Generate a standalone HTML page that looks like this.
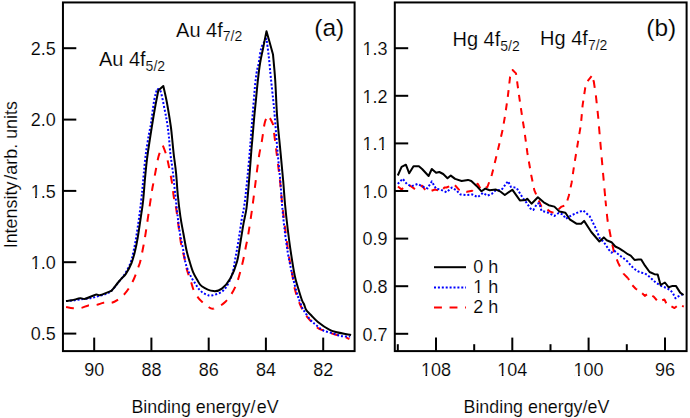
<!DOCTYPE html>
<html><head><meta charset="utf-8"><style>
html,body{margin:0;padding:0;background:#fff;width:690px;height:418px;overflow:hidden;}
svg{display:block;font-family:"Liberation Sans", sans-serif;}
</style></head><body>
<svg width="690" height="418" viewBox="0 0 690 418">
<rect width="690" height="418" fill="#fff"/>
<path d="M66.10,306.90 C67.28,307.12 70.67,308.03 73.20,308.20 C75.73,308.37 78.77,308.37 81.30,307.90 C83.83,307.43 85.87,305.90 88.40,305.40 C90.93,304.90 93.97,305.33 96.50,304.90 C99.03,304.47 101.07,303.15 103.60,302.80 C106.13,302.45 109.33,303.30 111.70,302.80" fill="none" stroke="#ff0000" stroke-width="2.0" stroke-linejoin="round" stroke-dasharray="7.9 7.65" stroke-dashoffset="0"/>
<path d="M162.90,145.70 C162.35,146.95 160.45,150.90 159.60,153.20 C158.75,155.50 158.77,154.87 157.80,159.50 C156.83,164.13 154.75,175.92 153.80,181.00 C152.85,186.08 152.98,184.52 152.10,190.00 C151.22,195.48 149.70,205.93 148.50,213.90 C147.30,221.87 146.22,230.12 144.90,237.80 C143.58,245.48 141.68,255.13 140.60,260.00 C139.52,264.87 139.48,263.92 138.40,267.00 C137.32,270.08 135.67,274.98 134.10,278.50 C132.53,282.02 130.70,285.40 129.00,288.10 C127.30,290.80 125.77,292.75 123.90,294.70 C122.03,296.65 119.83,298.45 117.80,299.80 C115.77,301.15 114.07,302.30 111.70,302.80" fill="none" stroke="#ff0000" stroke-width="2.0" stroke-linejoin="round" stroke-dasharray="7.9 7.65" stroke-dashoffset="7.8"/>
<path d="M162.90,145.70 C163.42,147.08 165.20,151.50 166.00,154.00 C166.80,156.50 166.75,156.20 167.70,160.70 C168.65,165.20 170.68,174.95 171.70,181.00 C172.72,187.05 173.07,192.50 173.80,197.00 C174.53,201.50 175.37,203.58 176.10,208.00 C176.83,212.42 177.62,219.17 178.20,223.50 C178.78,227.83 179.10,230.48 179.60,234.00 C180.10,237.52 180.58,241.37 181.20,244.60 C181.82,247.83 182.62,250.50 183.30,253.40 C183.98,256.30 184.68,259.23 185.30,262.00 C185.92,264.77 186.38,267.67 187.00,270.00 C187.62,272.33 188.28,273.87 189.00,276.00 C189.72,278.13 190.53,280.47 191.30,282.80 C192.07,285.13 192.50,287.58 193.60,290.00 C194.70,292.42 196.42,295.25 197.90,297.30 C199.38,299.35 200.90,300.82 202.50,302.30 C204.10,303.78 205.67,305.13 207.50,306.20 C209.33,307.27 210.55,309.40 213.50,308.70" fill="none" stroke="#ff0000" stroke-width="2.0" stroke-linejoin="round" stroke-dasharray="7.9 7.65" stroke-dashoffset="0"/>
<path d="M267.40,115.30 C266.93,116.67 265.50,119.35 264.60,123.50 C263.70,127.65 262.92,134.87 262.00,140.20 C261.08,145.53 260.10,149.08 259.10,155.50 C258.10,161.92 257.13,170.03 256.00,178.70 C254.87,187.37 253.63,197.92 252.30,207.50 C250.97,217.08 249.02,229.95 248.00,236.20 C246.98,242.45 247.20,240.18 246.20,245.00 C245.20,249.82 243.82,258.12 242.00,265.10 C240.18,272.08 238.10,280.75 235.30,286.90 C232.50,293.05 228.83,298.37 225.20,302.00 C221.57,305.63 216.45,308.00 213.50,308.70" fill="none" stroke="#ff0000" stroke-width="2.0" stroke-linejoin="round" stroke-dasharray="7.9 7.65" stroke-dashoffset="11.7"/>
<path d="M267.40,115.30 C267.87,115.85 269.27,117.12 270.20,118.60 C271.13,120.08 272.53,123.27 273.00,124.20 C273.53,128.50 275.05,140.70 276.20,150.00 C277.35,159.30 278.90,171.00 279.90,180.00 C280.90,189.00 281.33,196.00 282.20,204.00 C283.07,212.00 284.03,219.67 285.10,228.00 C286.17,236.33 287.45,246.50 288.60,254.00 C289.75,261.50 290.92,267.00 292.00,273.00 C293.08,279.00 293.72,284.67 295.10,290.00 C296.48,295.33 298.57,300.93 300.30,305.00 C302.03,309.07 304.15,312.17 305.50,314.40 C306.85,316.63 306.67,316.42 308.40,318.40 C310.13,320.38 314.10,324.57 315.90,326.30 C317.70,328.03 316.97,327.78 319.20,328.80 C321.43,329.82 326.78,331.48 329.30,332.40 C331.82,333.32 331.93,333.62 334.30,334.30 C336.67,334.98 340.98,335.72 343.50,336.50 C346.02,337.28 348.42,338.58 349.40,339.00" fill="none" stroke="#ff0000" stroke-width="2.0" stroke-linejoin="round" stroke-dasharray="7.9 7.65" stroke-dashoffset="11.7"/>
<path d="M66.00,301.00 C67.00,300.93 69.67,300.85 72.00,300.60 C74.33,300.35 76.60,299.97 80.00,299.50 C83.40,299.03 88.97,298.47 92.40,297.80 C95.83,297.13 98.23,296.18 100.60,295.50 C102.97,294.82 104.75,294.53 106.60,293.70 C108.45,292.87 109.50,292.70 111.70,290.50 C113.90,288.30 117.50,283.42 119.80,280.50 C122.10,277.58 123.67,276.08 125.50,273.00 C127.33,269.92 129.45,265.67 130.80,262.00 C132.15,258.33 132.72,255.03 133.60,251.00 C134.48,246.97 135.10,243.98 136.10,237.80 C137.10,231.62 138.57,221.87 139.60,213.90 C140.63,205.93 141.60,196.77 142.30,190.00 C143.00,183.23 143.22,179.30 143.80,173.30 C144.38,167.30 144.97,160.38 145.80,154.00 C146.63,147.62 147.93,140.08 148.80,135.00 C149.67,129.92 150.12,129.22 151.00,123.50 C151.88,117.78 153.08,106.48 154.10,100.70 C155.12,94.92 156.60,90.78 157.10,88.80 C157.70,89.28 159.40,88.02 160.70,91.70 C162.00,95.38 163.80,105.52 164.90,110.90 C166.00,116.28 166.63,119.67 167.30,124.00 C167.97,128.33 168.38,131.90 168.90,136.90 C169.42,141.90 169.75,148.25 170.40,154.00 C171.05,159.75 172.03,165.07 172.80,171.40 C173.57,177.73 174.17,184.32 175.00,192.00 C175.83,199.68 176.98,210.60 177.80,217.50 C178.62,224.40 179.15,228.82 179.90,233.40 C180.65,237.98 181.57,241.23 182.30,245.00 C183.03,248.77 183.72,252.83 184.30,256.00 C184.88,259.17 185.03,261.27 185.80,264.00 C186.57,266.73 187.88,270.00 188.90,272.40 C189.92,274.80 190.82,276.53 191.90,278.40 C192.98,280.27 194.40,282.03 195.40,283.60 C196.40,285.17 197.07,286.63 197.90,287.80 C198.73,288.97 199.50,289.73 200.40,290.60 C201.30,291.47 202.22,292.33 203.30,293.00 C204.38,293.67 205.48,294.18 206.90,294.60 C208.32,295.02 209.02,296.22 211.80,295.50 C214.58,294.78 220.25,293.68 223.60,290.30 C226.95,286.92 229.93,280.58 231.90,275.20 C233.87,269.82 234.28,263.87 235.40,258.00 C236.52,252.13 237.57,246.33 238.60,240.00 C239.63,233.67 240.62,226.00 241.60,220.00 C242.58,214.00 243.55,210.88 244.50,204.00 C245.45,197.12 246.40,187.70 247.30,178.70 C248.20,169.70 249.18,158.48 249.90,150.00 C250.62,141.52 250.65,139.47 251.60,127.80 C252.55,116.13 254.42,90.80 255.60,80.00 C256.78,69.20 257.72,68.45 258.70,63.00 C259.68,57.55 260.20,51.35 261.50,47.30 C262.80,43.25 265.67,40.13 266.50,38.70 C266.87,41.57 267.98,49.45 268.70,55.90 C269.42,62.35 270.05,70.05 270.80,77.40 C271.55,84.75 272.55,93.57 273.20,100.00 C273.85,106.43 274.00,107.67 274.70,116.00 C275.40,124.33 276.45,139.00 277.40,150.00 C278.35,161.00 279.63,173.00 280.40,182.00 C281.17,191.00 281.33,196.33 282.00,204.00 C282.67,211.67 283.45,220.00 284.40,228.00 C285.35,236.00 286.63,245.33 287.70,252.00 C288.77,258.67 289.92,263.67 290.80,268.00 C291.68,272.33 291.97,273.73 293.00,278.00 C294.03,282.27 296.08,290.27 297.00,293.60 C297.92,296.93 297.62,295.60 298.50,298.00 C299.38,300.40 301.33,305.78 302.30,308.00 C303.27,310.22 302.87,309.22 304.30,311.30 C305.73,313.38 308.83,318.13 310.90,320.50 C312.97,322.87 314.62,323.83 316.70,325.50 C318.78,327.17 320.88,329.25 323.40,330.50 C325.92,331.75 328.87,332.08 331.80,333.00 C334.73,333.92 337.93,335.40 341.00,336.00 C344.07,336.60 348.67,336.50 350.20,336.60" fill="none" stroke="#0000ff" stroke-width="2.0" stroke-linejoin="round" stroke-dasharray="2 1.9"/>
<path d="M66.00,301.00 C67.00,300.88 69.62,300.75 72.00,300.30 C74.38,299.85 78.08,298.55 80.30,298.30 C82.52,298.05 82.77,299.40 85.30,298.80 C87.83,298.20 92.95,295.33 95.50,294.70 C98.05,294.07 97.90,295.67 100.60,295.00 C103.30,294.33 109.85,291.42 111.70,290.70 C113.05,289.00 117.42,283.35 119.80,280.50 C122.18,277.65 124.05,276.52 126.00,273.60 C127.95,270.68 130.03,266.60 131.50,263.00 C132.97,259.40 133.77,256.20 134.80,252.00 C135.83,247.80 136.62,244.15 137.70,237.80 C138.78,231.45 140.38,220.20 141.30,213.90 C142.22,207.60 142.57,206.08 143.20,200.00 C143.83,193.92 144.45,184.35 145.10,177.40 C145.75,170.45 146.30,164.68 147.10,158.30 C147.90,151.92 148.98,145.15 149.90,139.10 C150.82,133.05 151.67,127.68 152.60,122.00 C153.53,116.32 154.55,110.23 155.50,105.00 C156.45,99.77 157.83,93.00 158.30,90.60 C159.13,89.83 162.47,86.77 163.30,86.00 C163.88,88.67 165.58,95.50 166.80,102.00 C168.02,108.50 169.77,119.50 170.60,125.00 C171.43,130.50 171.28,130.17 171.80,135.00 C172.32,139.83 172.98,147.62 173.70,154.00 C174.42,160.38 175.42,166.47 176.10,173.30 C176.78,180.13 177.08,187.77 177.80,195.00 C178.52,202.23 179.47,210.28 180.40,216.70 C181.33,223.12 182.38,227.90 183.40,233.50 C184.42,239.10 185.45,245.58 186.50,250.30 C187.55,255.02 188.58,258.12 189.70,261.80 C190.82,265.48 191.93,269.37 193.20,272.40 C194.47,275.43 195.87,277.70 197.30,280.00 C198.73,282.30 199.10,284.35 201.80,286.20 C204.50,288.05 210.15,290.70 213.50,291.10 C216.85,291.50 219.10,290.70 221.90,288.60 C224.70,286.50 227.78,282.97 230.30,278.50 C232.82,274.03 235.25,268.22 237.00,261.80 C238.75,255.38 239.70,246.45 240.80,240.00 C241.90,233.55 242.63,228.52 243.60,223.10 C244.57,217.68 245.67,214.90 246.60,207.50 C247.53,200.10 248.40,188.28 249.20,178.70 C250.00,169.12 250.88,156.45 251.40,150.00 C251.92,143.55 251.83,145.43 252.30,140.00 C252.77,134.57 253.57,124.35 254.20,117.40 C254.83,110.45 255.47,104.68 256.10,98.30 C256.73,91.92 257.33,84.98 258.00,79.10 C258.67,73.22 259.27,68.07 260.10,63.00 C260.93,57.93 261.93,54.00 263.00,48.70 C264.07,43.40 265.92,34.12 266.50,31.20 C267.58,35.07 271.92,50.53 273.00,54.40 C273.37,58.67 274.52,69.73 275.20,80.00 C275.88,90.27 276.25,104.33 277.10,116.00 C277.95,127.67 279.28,139.17 280.30,150.00 C281.32,160.83 282.42,172.00 283.20,181.00 C283.98,190.00 284.27,196.17 285.00,204.00 C285.73,211.83 286.63,220.00 287.60,228.00 C288.57,236.00 289.60,244.00 290.80,252.00 C292.00,260.00 293.58,270.00 294.80,276.00 C296.02,282.00 296.92,284.00 298.10,288.00 C299.28,292.00 300.90,297.25 301.90,300.00 C302.90,302.75 303.45,302.97 304.10,304.50 C304.75,306.03 305.17,307.95 305.80,309.20 C306.43,310.45 306.97,310.95 307.90,312.00 C308.83,313.05 309.78,313.88 311.40,315.50 C313.02,317.12 314.62,319.33 317.60,321.70 C320.58,324.07 326.10,327.95 329.30,329.70 C332.50,331.45 333.17,331.32 336.80,332.20 C340.43,333.08 348.72,334.53 351.10,335.00" fill="none" stroke="#000" stroke-width="2.0" stroke-linejoin="round"/>
<polyline points="397.8,186.3 401.6,189.5 403.8,187.3 410.2,185.7 415.6,189.5 422.1,185.7 425.3,190.0 430.7,191.1 435.0,189.5 441.6,191.3 444.3,187.5 446.5,187.5 454.0,184.2 458.9,189.6 466.9,191.8 472.3,190.7 477.7,183.7 480.9,189.6 487.4,187.0 491.9,174.6 497.2,153.0 502.6,130.0 505.1,115.3 507.6,98.5 510.1,76.8 512.6,70.0 516.0,73.4 517.6,85.1 520.2,103.6 522.7,120.3 524.3,130.0 527.4,153.0 531.2,175.0 534.3,190.1 537.9,198.7 541.5,206.6 544.4,207.3 550.1,211.6 554.4,213.0 561.6,206.6 565.9,205.2 568.8,195.8 571.6,182.9 574.0,166.3 577.9,142.6 580.9,124.7 582.6,105.3 585.2,88.0 587.3,81.5 591.6,76.2" fill="none" stroke="#ff0000" stroke-width="2.0" stroke-linejoin="round" stroke-dasharray="6.85 6.63" stroke-dashoffset="13.30"/>
<polyline points="591.6,76.2 593.8,81.5 596.0,96.6 598.1,116.0 600.3,141.9 602.9,171.6 605.5,200.5" fill="none" stroke="#ff0000" stroke-width="2.0" stroke-linejoin="round" stroke-dasharray="7.9 7.65" stroke-dashoffset="11.30"/>
<polyline points="605.5,200.5 607.5,220.0 610.8,237.2 614.0,252.3 618.3,263.1 623.7,273.9 628.0,278.2" fill="none" stroke="#ff0000" stroke-width="2.0" stroke-linejoin="round" stroke-dasharray="7.9 7.65" stroke-dashoffset="2.12"/>
<polyline points="628.0,278.2 632.2,285.1 635.7,288.7 642.2,293.2 644.8,295.9 648.1,293.5 653.7,296.6 658.0,301.6 664.4,299.5 666.6,303.8 674.5,308.1 678.8,304.5 683.8,306.6" fill="none" stroke="#ff0000" stroke-width="2.0" stroke-linejoin="round" stroke-dasharray="6.42 6.22" stroke-dashoffset="4.28"/>
<polyline points="397.8,183.9 402.7,178.7 407.0,184.1 411.3,186.3 417.8,183.9 422.1,186.3 427.5,188.4 431.8,181.4 436.1,188.9 440.4,189.5 446.5,192.3 451.9,187.5 456.2,190.2 460.5,194.5 465.9,195.0 472.3,194.5 477.7,197.2 483.1,192.9 487.4,195.6 491.7,193.9 495.1,190.7 501.6,189.7 508.0,181.2 511.0,187.0 516.6,187.8 522.8,198.0 526.6,202.8 530.4,208.5 533.3,210.0 537.1,203.7 539.3,203.2 541.5,210.9 547.3,212.3 554.4,215.9 558.7,213.0 563.0,214.5 565.9,218.8 571.6,215.2 580.0,211.6 583.2,210.5 589.7,216.3 595.0,226.8 600.3,239.5 602.9,241.2 605.7,244.6 608.6,249.4 611.5,252.7 614.4,250.8 617.7,253.7 620.6,256.1 623.9,258.5 627.8,261.8 631.1,265.7 634.5,269.0 638.3,271.5 642.1,272.8 645.0,273.5 647.7,275.3 651.5,278.7 656.3,283.0 661.1,285.9 665.9,287.8 669.7,289.7 672.6,292.6 675.5,298.3 678.3,296.4 682.8,294.2" fill="none" stroke="#0000ff" stroke-width="2.0" stroke-linejoin="round" stroke-dasharray="2 1.9"/>
<polyline points="397.8,175.5 401.6,166.9 405.9,164.7 409.2,173.3 413.5,166.3 418.9,166.3 422.1,169.0 428.6,176.0 431.8,169.0 436.1,172.8 439.3,172.0 443.2,174.0 447.5,178.3 450.8,175.6 455.1,178.9 461.6,181.0 468.0,179.9 471.3,181.0 476.6,185.9 481.5,191.3 485.3,188.6 489.6,190.2 496.0,189.6 500.0,191.3 504.8,195.0 512.3,189.7 519.9,200.4 525.7,200.1 527.2,198.7 531.5,203.7 537.9,197.3 543.7,202.3 548.7,205.2 554.4,206.6 559.5,211.6 565.4,212.7 569.7,219.3 576.4,223.7 581.2,223.7 584.1,220.9 591.3,232.0 599.4,241.5 603.8,237.4 606.7,240.3 611.5,242.2 615.3,246.5 619.2,248.4 623.0,250.8 627.8,254.2 630.7,255.6 634.5,259.9 638.3,259.4 641.2,259.4 645.0,265.7 649.6,272.0 654.4,274.2 657.7,274.4 660.6,285.0 664.9,282.5 668.7,287.3 672.6,285.9 675.9,285.9 680.2,292.6 683.6,295.0" fill="none" stroke="#000" stroke-width="2.0" stroke-linejoin="round"/>
<rect x="62.95" y="2.45" width="291.65000000000003" height="348.65000000000003" fill="none" stroke="#000" stroke-width="2.0"/>
<rect x="394.8" y="2.45" width="291.8" height="348.65000000000003" fill="none" stroke="#000" stroke-width="2.0"/>
<line x1="62.95" y1="333.6" x2="76.3" y2="333.6" stroke="#000" stroke-width="2.0"/>
<line x1="62.95" y1="262.2" x2="76.3" y2="262.2" stroke="#000" stroke-width="2.0"/>
<line x1="62.95" y1="190.9" x2="76.3" y2="190.9" stroke="#000" stroke-width="2.0"/>
<line x1="62.95" y1="119.6" x2="76.3" y2="119.6" stroke="#000" stroke-width="2.0"/>
<line x1="62.95" y1="48.2" x2="76.3" y2="48.2" stroke="#000" stroke-width="2.0"/>
<line x1="94.2" y1="351.1" x2="94.2" y2="337.6" stroke="#000" stroke-width="2.0"/>
<line x1="151.4" y1="351.1" x2="151.4" y2="337.6" stroke="#000" stroke-width="2.0"/>
<line x1="208.7" y1="351.1" x2="208.7" y2="337.6" stroke="#000" stroke-width="2.0"/>
<line x1="265.9" y1="351.1" x2="265.9" y2="337.6" stroke="#000" stroke-width="2.0"/>
<line x1="323.2" y1="351.1" x2="323.2" y2="337.6" stroke="#000" stroke-width="2.0"/>
<line x1="394.8" y1="333.8" x2="408.2" y2="333.8" stroke="#000" stroke-width="2.0"/>
<line x1="394.8" y1="286.2" x2="408.2" y2="286.2" stroke="#000" stroke-width="2.0"/>
<line x1="394.8" y1="238.6" x2="408.2" y2="238.6" stroke="#000" stroke-width="2.0"/>
<line x1="394.8" y1="191.0" x2="408.2" y2="191.0" stroke="#000" stroke-width="2.0"/>
<line x1="394.8" y1="143.4" x2="408.2" y2="143.4" stroke="#000" stroke-width="2.0"/>
<line x1="394.8" y1="95.8" x2="408.2" y2="95.8" stroke="#000" stroke-width="2.0"/>
<line x1="394.8" y1="48.2" x2="408.2" y2="48.2" stroke="#000" stroke-width="2.0"/>
<line x1="436.0" y1="351.1" x2="436.0" y2="337.6" stroke="#000" stroke-width="2.0"/>
<line x1="512.3" y1="351.1" x2="512.3" y2="337.6" stroke="#000" stroke-width="2.0"/>
<line x1="588.6" y1="351.1" x2="588.6" y2="337.6" stroke="#000" stroke-width="2.0"/>
<line x1="665.0" y1="351.1" x2="665.0" y2="337.6" stroke="#000" stroke-width="2.0"/>
<line x1="397.8" y1="351.1" x2="397.8" y2="344.2" stroke="#000" stroke-width="2.0"/>
<line x1="474.2" y1="351.1" x2="474.2" y2="344.2" stroke="#000" stroke-width="2.0"/>
<line x1="550.5" y1="351.1" x2="550.5" y2="344.2" stroke="#000" stroke-width="2.0"/>
<line x1="626.8" y1="351.1" x2="626.8" y2="344.2" stroke="#000" stroke-width="2.0"/>
<g font-family='"Liberation Sans", sans-serif' fill="#000" stroke="#fff" stroke-width="0.15">
<text x="55.7" y="340.4" font-size="18" text-anchor="end">0.5</text>
<text x="55.7" y="269.1" font-size="18" text-anchor="end">1.0</text>
<text x="55.7" y="197.7" font-size="18" text-anchor="end">1.5</text>
<text x="55.7" y="126.4" font-size="18" text-anchor="end">2.0</text>
<text x="55.7" y="55.0" font-size="18" text-anchor="end">2.5</text>
<text x="387.5" y="340.6" font-size="18" text-anchor="end">0.7</text>
<text x="387.5" y="293.0" font-size="18" text-anchor="end">0.8</text>
<text x="387.5" y="245.4" font-size="18" text-anchor="end">0.9</text>
<text x="387.5" y="197.8" font-size="18" text-anchor="end">1.0</text>
<text x="387.5" y="150.2" font-size="18" text-anchor="end">1.1</text>
<text x="387.5" y="102.6" font-size="18" text-anchor="end">1.2</text>
<text x="387.5" y="55.0" font-size="18" text-anchor="end">1.3</text>
<text x="94.2" y="375.8" font-size="18" text-anchor="middle">90</text>
<text x="151.4" y="375.8" font-size="18" text-anchor="middle">88</text>
<text x="208.7" y="375.8" font-size="18" text-anchor="middle">86</text>
<text x="265.9" y="375.8" font-size="18" text-anchor="middle">84</text>
<text x="323.2" y="375.8" font-size="18" text-anchor="middle">82</text>
<text x="436.0" y="375.8" font-size="18" text-anchor="middle">108</text>
<text x="512.3" y="375.8" font-size="18" text-anchor="middle">104</text>
<text x="588.6" y="375.8" font-size="18" text-anchor="middle">100</text>
<text x="665.0" y="375.8" font-size="18" text-anchor="middle">96</text>
<text x="131.4" y="412.8" font-size="17.85">Binding energy/<tspan dx="1.3">eV</tspan></text>
<text x="536.4" y="412.8" font-size="17.85" text-anchor="middle">Binding energy/eV</text>
<text x="0" y="0" font-size="17.9" transform="translate(16.6,248.3) rotate(-90)">Intensity<tspan dx="2.0">/arb. units</tspan></text>
<text x="314.3" y="36.2" font-size="24.5" text-anchor="start">(a)</text>
<text x="646.3" y="36.2" font-size="24.5" text-anchor="start">(b)</text>
<text x="98.9" y="65.9" font-size="20">Au 4f<tspan font-size="14" dy="4.8">5/2</tspan></text>
<text x="176.1" y="36.5" font-size="20">Au 4f<tspan font-size="14" dy="4.8">7/2</tspan></text>
<text x="452.5" y="45.8" font-size="20">Hg 4f<tspan font-size="14" dy="4.8">5/2</tspan></text>
<text x="540.1" y="44.8" font-size="20">Hg 4f<tspan font-size="14" dy="4.8">7/2</tspan></text>
<line x1="434" y1="267.2" x2="466" y2="267.2" stroke="#000" stroke-width="2"/>
<line x1="434" y1="287.4" x2="466" y2="287.4" stroke="#0000ff" stroke-width="2" stroke-dasharray="2 1.9"/>
<line x1="434" y1="307.5" x2="466" y2="307.5" stroke="#ff0000" stroke-width="2" stroke-dasharray="7.9 7.65"/>
<text x="473.3" y="273.0" font-size="18" text-anchor="start">0 h</text>
<text x="473.3" y="292.8" font-size="18" text-anchor="start">1 h</text>
<text x="473.3" y="313.2" font-size="18" text-anchor="start">2 h</text>
</g>
<rect x="31.33" y="266.81" width="3.77" height="2.79" fill="#fff"/>
<rect x="36.79" y="266.81" width="3.55" height="2.79" fill="#fff"/>
<rect x="31.33" y="195.46" width="3.77" height="2.79" fill="#fff"/>
<rect x="36.79" y="195.46" width="3.55" height="2.79" fill="#fff"/>
<rect x="363.18" y="195.56" width="3.77" height="2.79" fill="#fff"/>
<rect x="368.64" y="195.56" width="3.55" height="2.79" fill="#fff"/>
<rect x="363.18" y="147.96" width="3.77" height="2.79" fill="#fff"/>
<rect x="368.64" y="147.96" width="3.55" height="2.79" fill="#fff"/>
<rect x="378.19" y="147.96" width="3.77" height="2.79" fill="#fff"/>
<rect x="383.66" y="147.96" width="3.55" height="2.79" fill="#fff"/>
<rect x="363.18" y="100.36" width="3.77" height="2.79" fill="#fff"/>
<rect x="368.64" y="100.36" width="3.55" height="2.79" fill="#fff"/>
<rect x="363.18" y="52.76" width="3.77" height="2.79" fill="#fff"/>
<rect x="368.64" y="52.76" width="3.55" height="2.79" fill="#fff"/>
<rect x="421.69" y="373.56" width="3.77" height="2.79" fill="#fff"/>
<rect x="427.15" y="373.56" width="3.55" height="2.79" fill="#fff"/>
<rect x="498.01" y="373.56" width="3.77" height="2.79" fill="#fff"/>
<rect x="503.47" y="373.56" width="3.55" height="2.79" fill="#fff"/>
<rect x="574.33" y="373.56" width="3.77" height="2.79" fill="#fff"/>
<rect x="579.79" y="373.56" width="3.55" height="2.79" fill="#fff"/>
<rect x="474.00" y="290.56" width="3.77" height="2.79" fill="#fff"/>
<rect x="479.47" y="290.56" width="3.55" height="2.79" fill="#fff"/>
</svg>
</body></html>
